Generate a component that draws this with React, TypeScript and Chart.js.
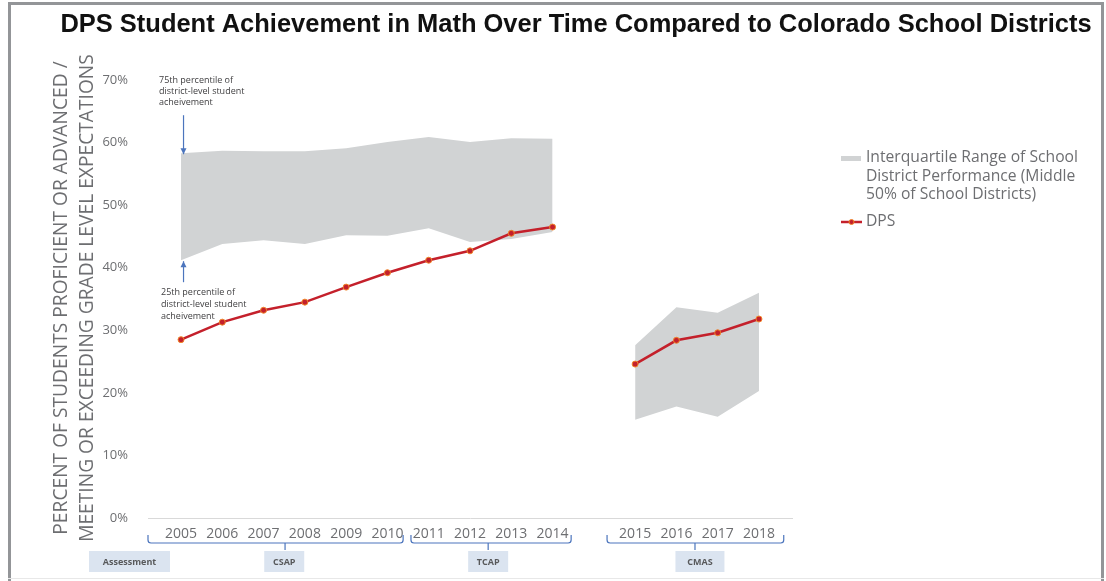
import React, { useEffect, useRef } from 'react';
import { Chart, registerables } from 'chart.js';

Chart.register(...registerables);

// ---------- data ----------
const axisLabels = ['2005', '2006', '2007', '2008', '2009', '2010', '2011', '2012', '2013', '2014', '', '2015', '2016', '2017', '2018'];
const dpsValues = [28.5, 31.3, 33.2, 34.5, 36.9, 39.2, 41.2, 42.7, 45.5, 46.5, null, 24.6, 28.4, 29.6, 31.8];
const pct75Values = [58.3, 58.7, 58.6, 58.6, 59.1, 60.1, 60.9, 60.1, 60.7, 60.6, null, 27.6, 33.7, 32.8, 36.0];
const pct25Values = [41.2, 43.8, 44.4, 43.8, 45.2, 45.1, 46.3, 44.1, 44.6, 45.7, null, 15.7, 17.8, 16.2, 20.3];
const yTickValues = [0, 10, 20, 30, 40, 50, 60, 70];

const assessmentNames = ['CSAP', 'TCAP', 'CMAS'];
const assessmentFirst = ['2005', '2011', '2015'];
const assessmentLast = ['2010', '2014', '2018'];
const assessmentHeader = 'Assessment';

const titleText = 'DPS Student Achievement in Math Over Time Compared to Colorado School Districts';
const yTitleLines = ['PERCENT OF STUDENTS PROFICIENT OR ADVANCED /', 'MEETING OR EXCEEDING GRADE LEVEL EXPECTATIONS'];
const legendBandLines = ['Interquartile Range of School', 'District Performance (Middle', '50% of School Districts)'];
const legendLineLabel = 'DPS';
const note75Lines = ['75th percentile of', 'district-level student', 'acheivement'];
const note25Lines = ['25th percentile of', 'district-level student', 'acheivement'];

// ---------- styles ----------
const SANS = '"Open Sans", Lato, "DejaVu Sans", sans-serif';
const TITLE_FONT = '"Liberation Sans Narrow", "Liberation Sans", Arial, sans-serif';
const GREY_TEXT = '#6d6e71';
const BAND = '#d1d3d4';
const RED = '#c4202b';
const ORANGE = '#f0862a';
const BLUE = '#4c75bd';
const BOX = '#dbe4f0';

const toPoints = (arr: (number | null)[]) => axisLabels.map((_, i) => ({ x: i, y: arr[i] }));

function fitSize(ctx: CanvasRenderingContext2D, text: string, target: number, weight: string, family: string) {
  ctx.font = `${weight} 100px ${family}`;
  const w = ctx.measureText(text).width;
  return (100 * target) / w;
}

const decorPlugin = {
  id: 'decor',
  afterDraw(chart: any) {
    const ctx: CanvasRenderingContext2D = chart.ctx;
    const xs = chart.scales.x;
    const ys = chart.scales.y;
    ctx.save();

    // frame
    ctx.fillStyle = '#939598';
    ctx.fillRect(8, 2, 1096, 3);
    ctx.fillRect(8, 2, 3, 579);
    ctx.fillRect(1101, 2, 3, 579);
    ctx.fillStyle = '#e8e8e8';
    ctx.fillRect(8, 578, 1096, 1);

    // title
    const ts = fitSize(ctx, titleText, 1032, 'bold', TITLE_FONT);
    ctx.font = `bold ${ts}px ${TITLE_FONT}`;
    ctx.fillStyle = '#111';
    ctx.textAlign = 'center';
    ctx.textBaseline = 'middle';
    ctx.fillText(titleText, 576, 25);

    // y title (rotated two lines)
    const ys1 = fitSize(ctx, yTitleLines[1], 488, 'normal', SANS);
    ctx.font = `normal ${ys1}px ${SANS}`;
    ctx.fillStyle = GREY_TEXT;
    const yCenters = [62, 88];
    yTitleLines.forEach((line, i) => {
      ctx.save();
      ctx.translate(yCenters[i], 298);
      ctx.rotate(-Math.PI / 2);
      ctx.textAlign = 'center';
      ctx.textBaseline = 'middle';
      ctx.fillText(line, 0, 0);
      ctx.restore();
    });

    // annotations
    ctx.font = `normal 9px ${SANS}`;
    ctx.fillStyle = '#414042';
    ctx.textAlign = 'left';
    ctx.textBaseline = 'middle';
    note75Lines.forEach((l, i) => ctx.fillText(l, 159, 80 + i * 11.2));
    note25Lines.forEach((l, i) => ctx.fillText(l, 161, 292 + i * 12.2));

    const ax = xs.getPixelForValue(0) + 2.5;
    const drawArrow = (x: number, from: number, to: number) => {
      ctx.strokeStyle = BLUE;
      ctx.fillStyle = BLUE;
      ctx.lineWidth = 1.2;
      ctx.beginPath();
      ctx.moveTo(x, from);
      ctx.lineTo(x, to);
      ctx.stroke();
      const dir = to > from ? 1 : -1;
      ctx.beginPath();
      ctx.moveTo(x, to);
      ctx.lineTo(x - 3, to - dir * 6);
      ctx.lineTo(x + 3, to - dir * 6);
      ctx.closePath();
      ctx.fill();
    };
    const top75 = ys.getPixelForValue(pct75Values[0] as number);
    const bot25 = ys.getPixelForValue(pct25Values[0] as number);
    drawArrow(ax, top75 - 38, top75 + 1);
    drawArrow(ax, bot25 + 22, bot25 + 1);

    // legend
    const ls = fitSize(ctx, legendBandLines[0], 212, 'normal', SANS);
    ctx.font = `normal ${ls}px ${SANS}`;
    ctx.fillStyle = BAND;
    ctx.fillRect(841, 156, 20, 5);
    ctx.fillStyle = GREY_TEXT;
    ctx.textAlign = 'left';
    ctx.textBaseline = 'middle';
    legendBandLines.forEach((l, i) => ctx.fillText(l, 866, 158 + i * 18.5));
    ctx.strokeStyle = RED;
    ctx.lineWidth = 2.5;
    ctx.beginPath();
    ctx.moveTo(841, 222);
    ctx.lineTo(862, 222);
    ctx.stroke();
    ctx.beginPath();
    ctx.arc(851.5, 222, 2.5, 0, Math.PI * 2);
    ctx.fillStyle = RED;
    ctx.fill();
    ctx.strokeStyle = ORANGE;
    ctx.lineWidth = 1;
    ctx.stroke();
    ctx.fillStyle = GREY_TEXT;
    ctx.fillText(legendLineLabel, 866, 222);

    // brackets and assessment boxes
    const leftPad = [0.8, 0.43, 0.68];
    const rightPad = [0.38, 0.45, 0.6];
    const tickShift = [0.02, -0.06, -0.05];
    const boxShift = [0, -0.06, 0.07];
    const boxW = [40, 40, 49];
    const drawBox = (cx: number, w: number, text: string) => {
      ctx.fillStyle = BOX;
      ctx.fillRect(cx - w / 2, 551, w, 21);
      ctx.fillStyle = '#58595b';
      ctx.font = `bold 9px ${SANS}`;
      ctx.textAlign = 'center';
      ctx.textBaseline = 'middle';
      ctx.fillText(text, cx, 562);
    };
    assessmentNames.forEach((name, g) => {
      const i0 = axisLabels.indexOf(assessmentFirst[g]);
      const i1 = axisLabels.indexOf(assessmentLast[g]);
      const x0 = xs.getPixelForValue(i0 - leftPad[g]);
      const x1 = xs.getPixelForValue(i1 + rightPad[g]);
      const xc = xs.getPixelForValue((i0 + i1) / 2 + tickShift[g]);
      ctx.strokeStyle = BLUE;
      ctx.lineWidth = 1.2;
      ctx.beginPath();
      ctx.moveTo(x0, 535);
      ctx.lineTo(x0, 540);
      ctx.quadraticCurveTo(x0, 543, x0 + 3, 543);
      ctx.lineTo(x1 - 3, 543);
      ctx.quadraticCurveTo(x1, 543, x1, 540);
      ctx.lineTo(x1, 535);
      ctx.moveTo(xc, 543);
      ctx.lineTo(xc, 550);
      ctx.stroke();
      drawBox(xs.getPixelForValue((i0 + i1) / 2 + boxShift[g]), boxW[g], name);
    });
    drawBox(129.5, 81, assessmentHeader);
    ctx.restore();
  },
};

export default function App() {
  const ref = useRef<HTMLCanvasElement | null>(null);
  useEffect(() => {
    document.body.style.margin = '0';
    const canvas = ref.current;
    if (!canvas) return;
    const chart = new Chart(canvas, {
      type: 'line',
      data: {
        datasets: [
          {
            label: legendLineLabel,
            data: toPoints(dpsValues),
            borderColor: RED,
            borderWidth: 2.5,
            pointRadius: 3,
            pointBackgroundColor: RED,
            pointBorderColor: ORANGE,
            pointBorderWidth: 1,
            spanGaps: false,
            fill: false,
          },
          {
            label: '25th',
            data: toPoints(pct25Values),
            borderWidth: 0,
            borderColor: 'rgba(0,0,0,0)',
            pointRadius: 0,
            spanGaps: false,
            fill: false,
          },
          {
            label: '75th',
            data: toPoints(pct75Values),
            borderWidth: 0,
            borderColor: 'rgba(0,0,0,0)',
            backgroundColor: BAND,
            pointRadius: 0,
            spanGaps: false,
            fill: 1,
          },
        ],
      },
      options: {
        responsive: false,
        animation: false,
        devicePixelRatio: 1,
        layout: { padding: { top: 80, right: 314, bottom: 0, left: 0 } },
        plugins: { legend: { display: false }, tooltip: { enabled: false }, title: { display: false } },
        scales: {
          x: {
            type: 'linear',
            min: -0.8,
            max: 14.8,
            afterBuildTicks: (s: any) => {
              s.ticks = axisLabels.map((_, i) => ({ value: i }));
            },
            afterFit: (s: any) => {
              s.height = 63;
            },
            ticks: {
              callback: (v: any) => axisLabels[v] ?? '',
              autoSkip: false,
              maxRotation: 0,
              color: GREY_TEXT,
              font: { family: SANS, size: 14 },
              padding: 8,
            },
            grid: { display: false, drawTicks: false },
            border: { display: true, color: '#d9d9d9', width: 1 },
          },
          y: {
            min: 0,
            max: 70,
            afterBuildTicks: (s: any) => {
              s.ticks = yTickValues.map((v) => ({ value: v }));
            },
            afterFit: (s: any) => {
              s.width = 148;
            },
            ticks: {
              callback: (v: any) => `${v}%`,
              color: GREY_TEXT,
              font: { family: SANS, size: 13 },
              padding: 20,
            },
            grid: { display: false, drawTicks: false },
            border: { display: false },
          },
        },
      },
      plugins: [decorPlugin],
    } as any);
    return () => chart.destroy();
  }, []);
  return (
    <div style={{ position: 'relative', width: 1106, height: 581, background: '#fff' }}>
      <canvas ref={ref} width={1106} height={581} style={{ display: 'block', width: 1106, height: 581 }} />
    </div>
  );
}
